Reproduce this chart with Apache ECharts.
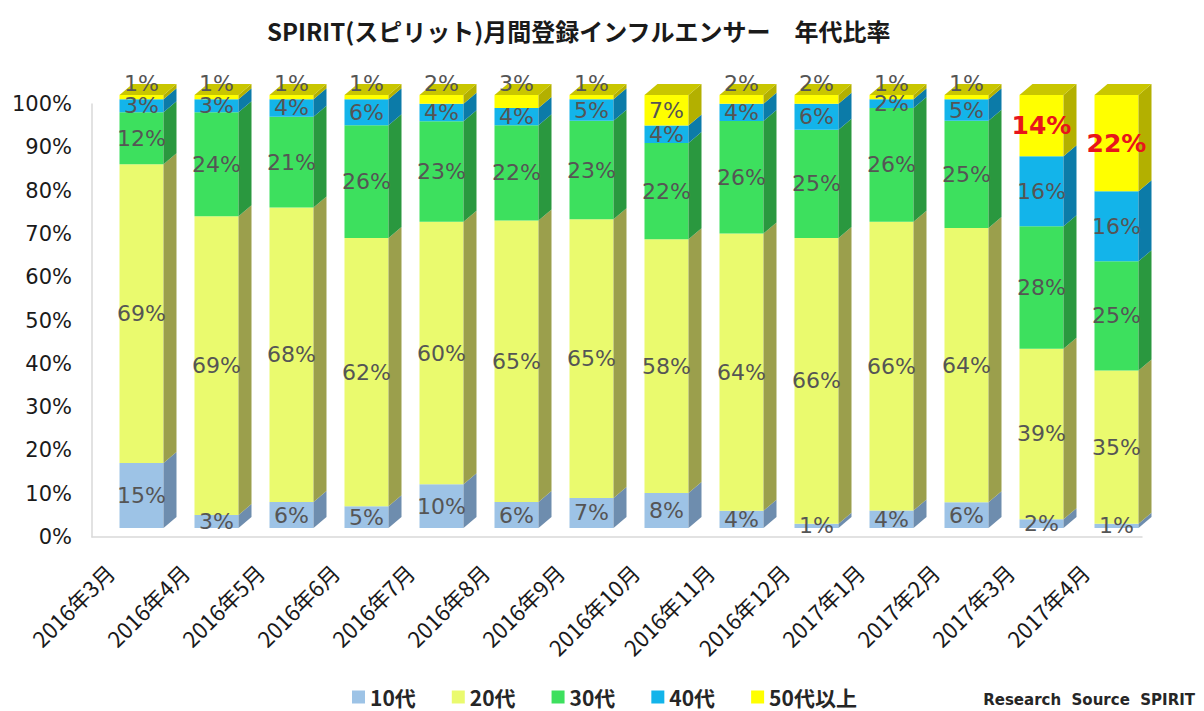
<!DOCTYPE html>
<html>
<head>
<meta charset="utf-8">
<script src="https://cdn.jsdelivr.net/npm/echarts@6/dist/echarts.min.js"></script>
<style>
html,body{margin:0;padding:0;background:#fff;}
#chart{width:1204px;height:711px;}
</style>
</head>
<body>
<div id="chart"></div>
<script>
// ---- data ----
const categories = ['2016年3月','2016年4月','2016年5月','2016年6月','2016年7月','2016年8月','2016年9月','2016年10月','2016年11月','2016年12月','2017年1月','2017年2月','2017年3月','2017年4月'];
const ages = ['10代','20代','30代','40代','50代以上'];
const s10 = [15, 3, 6, 5, 10, 6, 7, 8, 4, 1, 4, 6, 2, 1];
const s20 = [69, 69, 68, 62, 60, 65, 65, 58, 64, 66, 66, 64, 39, 35];
const s30 = [12, 24, 21, 26, 23, 22, 23, 22, 26, 25, 26, 25, 28, 25];
const s40 = [3, 3, 4, 6, 4, 4, 5, 4, 4, 6, 2, 5, 16, 16];
const s50 = [1, 1, 1, 1, 2, 3, 1, 7, 2, 2, 1, 1, 14, 22];
const yTicks = [0, 10, 20, 30, 40, 50, 60, 70, 80, 90, 100];
const redLabelCats = [12, 13];

// ---- styles ----
const frontColors = ['#9DC3E6', '#EAFA6E', '#3DE05E', '#13B4EA', '#FFFF00'];
const sideColors  = ['#6E8DAE', '#9B9F4C', '#2A983F', '#0C7BA8', '#B3B000'];
const topColor = '#C9C600';
const BW = 44, DX = 13, DY = -11, OY = -9, SHIFT_X = 12;

const values = [s10, s20, s30, s40, s50];

// 100% stacking
const bases = values.map(() => []);
const tops = values.map(() => []);
categories.forEach((c, i) => {
  const total = values.reduce((a, arr) => a + arr[i], 0);
  let acc = 0;
  values.forEach((arr, k) => {
    bases[k][i] = acc / total * 100;
    acc += arr[i];
    tops[k][i] = acc / total * 100;
  });
});

function geom(api, i, b, t) {
  const p0 = api.coord([i, b]);
  const p1 = api.coord([i, t]);
  const cx = p0[0] + SHIFT_X;
  return { x0: cx - BW / 2, x1: cx + BW / 2, cx: cx, yb: p0[1] + OY, yt: p1[1] + OY };
}

function shapeRenderer(k) {
  return function (params, api) {
    const i = api.value(0);
    const g = geom(api, i, api.value(1), api.value(2));
    const children = [
      { type: 'rect', shape: { x: g.x0, y: g.yt, width: BW, height: g.yb - g.yt }, style: { fill: frontColors[k] } },
      { type: 'polygon', shape: { points: [[g.x1, g.yt], [g.x1 + DX, g.yt + DY], [g.x1 + DX, g.yb + DY], [g.x1, g.yb]] }, style: { fill: sideColors[k] } }
    ];
    if (k === values.length - 1) {
      children.push({ type: 'polygon', shape: { points: [[g.x0, g.yt], [g.x0 + DX, g.yt + DY], [g.x1 + DX, g.yt + DY], [g.x1, g.yt]] }, style: { fill: topColor } });
    }
    return { type: 'group', children: children };
  };
}

function labelRenderer(params, api) {
  const i = api.value(0), k = api.value(4), v = api.value(3);
  const g = geom(api, i, api.value(1), api.value(2));
  let y = (g.yt + g.yb) / 2;
  const red = (k === values.length - 1 && redLabelCats.indexOf(i) >= 0);
  if (k === values.length - 1 && (g.yb - g.yt) < 20) y = g.yt - 12;
  return {
    type: 'text',
    style: {
      text: v + '%', x: g.cx, y: y, align: 'center', verticalAlign: 'middle',
      fill: red ? '#E8141B' : '#555555',
      font: red ? 'bold 25px "DejaVu Sans"' : '22px "DejaVu Sans"'
    }
  };
}

const series = ages.map((name, k) => ({
  name: name,
  type: 'custom',
  renderItem: shapeRenderer(k),
  itemStyle: { color: frontColors[k] },
  data: categories.map((c, i) => [i, bases[k][i], tops[k][i]]),
  z: 2
}));
const labelData = [];
ages.forEach((name, k) => categories.forEach((c, i) => labelData.push([i, bases[k][i], tops[k][i], values[k][i], k])));
series.push({ name: 'labels', type: 'custom', renderItem: labelRenderer, data: labelData, z: 5, silent: true });

const chart = echarts.init(document.getElementById('chart'), null, { renderer: 'svg' });
chart.setOption({
  animation: false,
  backgroundColor: '#fff',
  title: [
    { text: 'SPIRIT(スピリット)月間登録インフルエンサー　年代比率', left: 262, top: 13,
      textStyle: { fontFamily: '"Noto Sans CJK JP"', fontWeight: 'bold', fontSize: 24, color: '#1a1a1a' } },
    { text: 'Research  Source  SPIRIT', right: 4, top: 686,
      textStyle: { fontFamily: '"DejaVu Sans"', fontWeight: 'bold', fontSize: 15, lineHeight: 18, color: '#262626' } }
  ],
  legend: {
    data: ages, left: 352, top: 686, padding: 0, icon: 'rect', itemWidth: 13, itemHeight: 13, itemGap: 36,
    textStyle: { fontFamily: '"Noto Sans CJK JP"', fontWeight: 'bold', fontSize: 21, lineHeight: 22, color: '#262626' }
  },
  grid: { left: 92, right: 62, top: 104, bottom: 174 },
  xAxis: {
    type: 'category', data: categories,
    axisLine: { lineStyle: { color: '#D9D9D9', width: 1.5 } },
    axisTick: { show: false },
    axisLabel: { rotate: 45, interval: 0, margin: 11, padding: [0, 28, 0, 0],
      fontFamily: '"Noto Sans CJK JP"', fontSize: 22, color: '#1a1a1a' }
  },
  yAxis: {
    type: 'value', min: yTicks[0], max: yTicks[yTicks.length - 1], interval: yTicks[1] - yTicks[0],
    axisLine: { show: true, lineStyle: { color: '#D9D9D9', width: 1.5 } },
    axisTick: { show: false },
    splitLine: { show: false },
    axisLabel: { formatter: '{value}%', margin: 20, fontFamily: '"DejaVu Sans"', fontSize: 21, color: '#1a1a1a' }
  },
  series: series
});
</script>
</body>
</html>
